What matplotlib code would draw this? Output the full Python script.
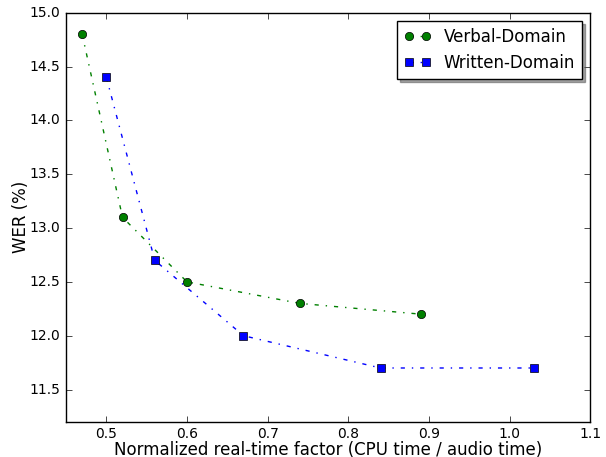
import matplotlib
matplotlib.use("Agg")
import matplotlib.pyplot as plt

plt.style.use("classic")

verbal_rtf = [0.47, 0.52, 0.60, 0.74, 0.89]
verbal_wer = [14.8, 13.1, 12.5, 12.3, 12.2]
written_rtf = [0.50, 0.56, 0.67, 0.84, 1.03]
written_wer = [14.4, 12.7, 12.0, 11.7, 11.7]

fig = plt.figure(figsize=(6.06, 4.57), dpi=100, facecolor="white")
ax = fig.add_axes([0.109, 0.077, 0.865, 0.895])

ax.plot(verbal_rtf, verbal_wer, "g-.o", label="Verbal-Domain", markersize=6,
        markeredgecolor="black")
ax.plot(written_rtf, written_wer, "b-.s", label="Written-Domain", markersize=6,
        markeredgecolor="black")

ax.set_xlim(0.45, 1.1)
ax.set_ylim(11.2, 15.0)
ax.set_xticks([0.5, 0.6, 0.7, 0.8, 0.9, 1.0, 1.1])
ax.set_yticks([11.5, 12.0, 12.5, 13.0, 13.5, 14.0, 14.5, 15.0])
ax.tick_params(labelsize=10)
ax.set_xlabel("Normalized real-time factor (CPU time / audio time)", fontsize=12,
              labelpad=0)
ax.set_ylabel("WER (%)", fontsize=12, labelpad=0)

ax.legend(loc="upper right", shadow=True, fancybox=False, numpoints=2, fontsize=12,
          handlelength=1.6)

fig.savefig("out.png", dpi=100, facecolor="white")
